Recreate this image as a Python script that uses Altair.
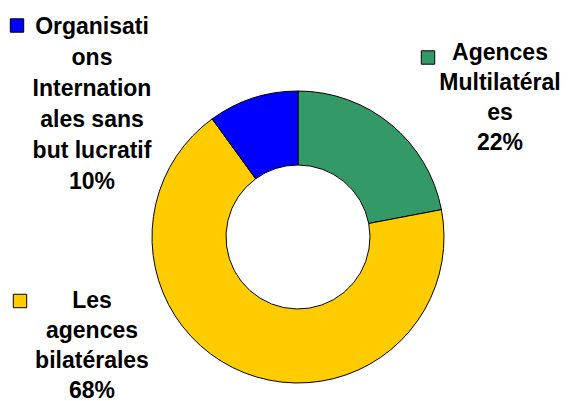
import altair as alt
import pandas as pd

# Data
categories = ["Agences Multilatérales", "Les agences bilatérales",
              "Organisations Internationales sans but lucratif"]
shares = [22, 68, 10]
order = [1, 2, 3]
colors = ["#339966", "#FFCC00", "#0000FF"]

# Label texts (as wrapped in the reference)
label_lines = {
    "Agences Multilatérales": ["Agences", "Multilatéral", "es", "22%"],
    "Les agences bilatérales": ["Les", "agences", "bilatérales", "68%"],
    "Organisations Internationales sans but lucratif":
        ["Organisati", "ons", "Internation", "ales sans", "but lucratif", "10%"],
}

# Layout (pixel positions inside the chart; y = first line centre)
label_pos = {
    "Agences Multilatérales": (492, 45),
    "Les agences bilatérales": (84, 293),
    "Organisations Internationales sans but lucratif": (84, 18.5),
}
line_height = {
    "Agences Multilatérales": 30,
    "Les agences bilatérales": 30,
    "Organisations Internationales sans but lucratif": 31,
}
square_pos = {
    "Agences Multilatérales": (420, 49.5),
    "Les agences bilatérales": (12, 293),
    "Organisations Internationales sans but lucratif": (9, 17.5),
}

df = pd.DataFrame({"category": categories, "share": shares, "order": order})

color_scale = alt.Scale(domain=categories, range=colors)

donut = alt.Chart(df).mark_arc(
    outerRadius=146, innerRadius=72, stroke="black", strokeWidth=1
).encode(
    theta=alt.Theta("share:Q", stack=True),
    order=alt.Order("order:Q"),
    color=alt.Color("category:N", scale=color_scale, legend=None),
    x=alt.value(290),
    y=alt.value(229),
)

layers = [donut]
for cat, col in zip(categories, colors):
    sub = df[df["category"] == cat]
    lx, ly = label_pos[cat]
    sx, sy = square_pos[cat]
    txt = alt.Chart(sub).mark_text(
        font="Liberation Sans", fontWeight="bold", fontSize=23,
        align="center", baseline="middle", lineHeight=line_height[cat],
        color="black",
    ).encode(
        x=alt.value(lx), y=alt.value(ly),
        text=alt.value(label_lines[cat]),
    )
    sq = alt.Chart(sub).mark_point(
        shape="square", filled=True, size=180, stroke="black",
        strokeWidth=1, opacity=1,
    ).encode(
        x=alt.value(sx), y=alt.value(sy),
        color=alt.Color("category:N", scale=color_scale, legend=None),
    )
    layers += [txt, sq]

chart = alt.layer(*layers).properties(
    width=553, height=393, padding=0,
    autosize=alt.AutoSizeParams(type="none"),
).configure_view(stroke=None)

chart.save("out.html", embed_options={"renderer": "svg", "actions": False})
